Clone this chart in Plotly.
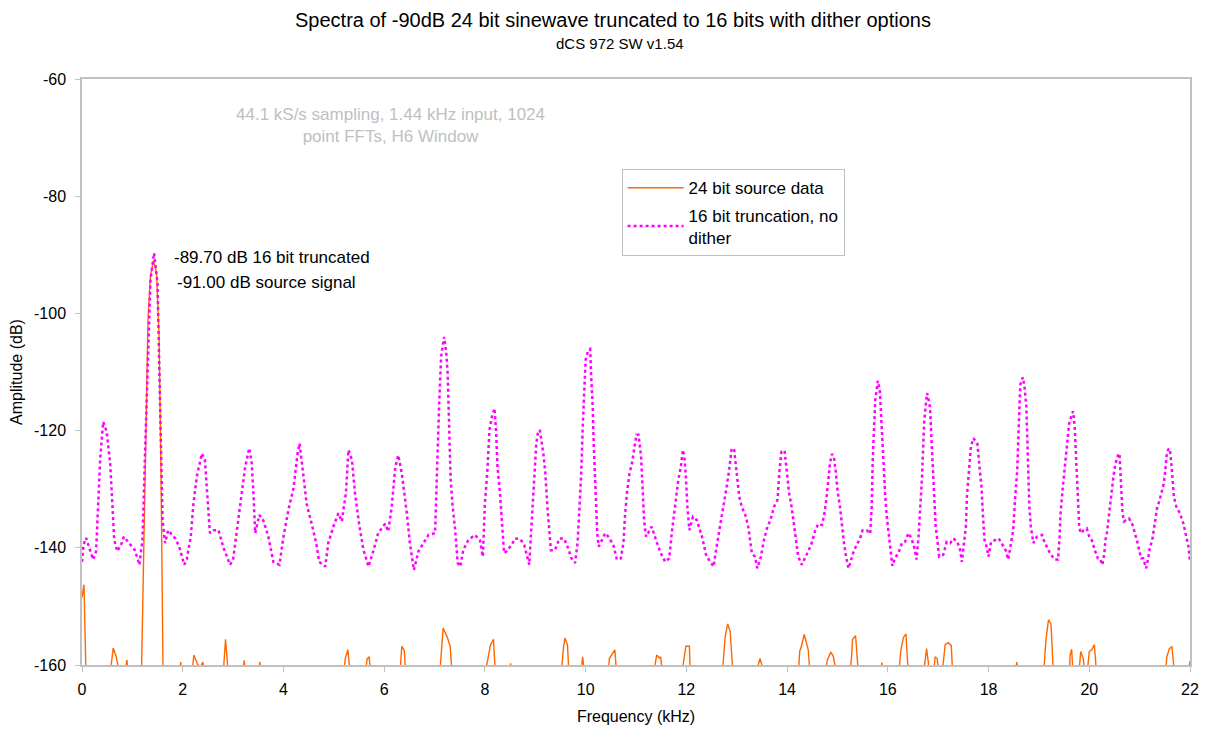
import plotly.graph_objects as go

# ---- 24 bit source data (orange); values below -160 dB are clipped by the axis ----
src_khz = [0.00, 0.04, 0.08,
           0.55, 0.62, 0.68, 0.76,
           0.85, 0.89, 0.93,
           1.18, 1.23, 1.27, 1.31, 1.36, 1.42, 1.48, 1.53, 1.57, 1.61,
           1.93, 1.96, 1.99,
           2.18, 2.22, 2.30, 2.36, 2.40, 2.44,
           2.80, 2.85, 2.91,
           3.19, 3.22, 3.25,
           3.50, 3.53, 3.56,
           5.18, 5.23, 5.28, 5.33,
           5.62, 5.66, 5.70, 5.74,
           6.31, 6.35, 6.40, 6.43,
           7.10, 7.17, 7.25, 7.31, 7.35,
           7.98, 8.05, 8.11, 8.17, 8.21,
           8.49, 8.51, 8.53,
           9.51, 9.56, 9.59, 9.64, 9.67,
           9.90, 9.94, 9.99,
           10.45, 10.47, 10.52, 10.58, 10.62,
           11.34, 11.41, 11.46, 11.49, 11.53,
           11.90, 11.99, 12.06, 12.08,
           12.71, 12.77, 12.82, 12.87, 12.93,
           13.37, 13.46, 13.57,
           14.22, 14.25, 14.29, 14.34, 14.42, 14.46,
           14.75, 14.80, 14.87, 14.92, 14.99,
           15.24, 15.28, 15.30, 15.36, 15.42,
           15.86, 15.88, 15.91,
           16.21, 16.26, 16.31, 16.36, 16.41,
           16.70, 16.77, 16.84,
           16.90, 16.94, 16.98, 17.02,
           17.07, 17.14, 17.20, 17.26, 17.29,
           18.52, 18.56, 18.61,
           19.09, 19.14, 19.19, 19.24, 19.29,
           19.60, 19.62, 19.65, 19.68,
           19.79, 19.83, 19.88, 19.92,
           19.95, 20.00, 20.05, 20.10, 20.15,
           21.51, 21.54, 21.59, 21.64, 21.70,
           21.96, 22.00]
src_db = [-148.5, -146.3, -162,
          -162, -157.1, -158.6, -162,
          -162, -159.1, -162,
          -162, -140, -118, -101, -93.5, -91.0, -93, -104, -128, -162,
          -162, -159.5, -162,
          -162, -158.3, -160, -160.2, -159.5, -162,
          -162, -155.6, -162,
          -162, -159.2, -162,
          -162, -159.5, -162,
          -162, -158.8, -157.4, -162,
          -162, -159.0, -158.6, -162,
          -162, -156.8, -157.5, -162,
          -162, -153.7, -155.2, -156.8, -162,
          -162, -159.4, -156.6, -155.6, -162,
          -162, -159.7, -162,
          -162, -157.0, -155.4, -156.6, -162,
          -162, -158.6, -162,
          -162, -158.9, -158.1, -157.4, -162,
          -162, -158.3, -158.8, -158.6, -162,
          -162, -156.8, -156.8, -162,
          -162, -155.2, -153.0, -154.3, -162,
          -162, -158.9, -162,
          -162, -157.7, -156.6, -154.8, -157.4, -162,
          -162, -159.1, -157.8, -158.6, -162,
          -162, -158.6, -155.6, -155.0, -162,
          -162, -159.6, -162,
          -162, -157.4, -155.3, -154.7, -162,
          -162, -157.2, -162,
          -162, -158.6, -158.9, -162,
          -162, -156.5, -156.2, -156.7, -162,
          -162, -159.5, -162,
          -162, -155.7, -152.3, -153.0, -162,
          -162, -158.3, -157.3, -162,
          -162, -157.7, -158.9, -162,
          -162, -157.7, -157.4, -156.5, -162,
          -162, -158.6, -157.2, -156.9, -162,
          -162, -159.3]

# ---- 16 bit truncation, no dither (magenta) ----
trunc_khz = [0.00, 0.03, 0.08, 0.14, 0.22, 0.28, 0.32, 0.36, 0.42, 0.49,
             0.56, 0.60, 0.64, 0.70, 0.79, 0.83, 0.92, 0.99, 1.05, 1.14,
             1.20, 1.26, 1.32, 1.36, 1.43, 1.50, 1.53, 1.56, 1.60, 1.65,
             1.71, 1.85, 1.93, 2.03, 2.08, 2.16, 2.21, 2.28, 2.38, 2.44,
             2.51, 2.54, 2.62, 2.71, 2.81, 2.94, 3.00, 3.07, 3.17, 3.24,
             3.32, 3.37, 3.40, 3.44, 3.52, 3.60, 3.70, 3.80, 3.92, 4.00,
             4.10, 4.20, 4.28, 4.32, 4.38, 4.46, 4.56, 4.65, 4.71, 4.83,
             4.89, 4.99, 5.09, 5.16, 5.19, 5.24, 5.29, 5.36, 5.42, 5.51,
             5.59, 5.69, 5.79, 5.88, 6.02, 6.08, 6.15, 6.22, 6.28, 6.35,
             6.45, 6.51, 6.59, 6.68, 6.78, 6.88, 7.01, 7.03, 7.06, 7.09,
             7.11, 7.13, 7.19, 7.23, 7.26, 7.28, 7.29, 7.32, 7.36, 7.41,
             7.46, 7.51, 7.57, 7.67, 7.80, 7.90, 7.96, 8.00, 8.05, 8.09,
             8.14, 8.19, 8.22, 8.25, 8.30, 8.33, 8.38, 8.43, 8.53, 8.60,
             8.70, 8.78, 8.83, 8.88, 8.92, 8.95, 8.98, 9.02, 9.05, 9.09,
             9.16, 9.20, 9.24, 9.27, 9.31, 9.39, 9.48, 9.57, 9.64, 9.72,
             9.79, 9.84, 9.87, 9.91, 9.94, 9.97, 10.00, 10.05, 10.09, 10.11,
             10.14, 10.16, 10.18, 10.21, 10.23, 10.26, 10.39, 10.45, 10.55, 10.62,
             10.70, 10.75, 10.78, 10.82, 10.87, 10.92, 10.96, 11.01, 11.05, 11.10,
             11.13, 11.16, 11.20, 11.31, 11.41, 11.49, 11.58, 11.66, 11.71, 11.76,
             11.81, 11.84, 11.89, 11.93, 11.96, 11.99, 12.02, 12.06, 12.13, 12.21,
             12.31, 12.40, 12.48, 12.54, 12.60, 12.67, 12.73, 12.80, 12.85, 12.90,
             12.95, 12.99, 13.02, 13.05, 13.10, 13.17, 13.23, 13.30, 13.36, 13.41,
             13.48, 13.54, 13.61, 13.67, 13.74, 13.81, 13.85, 13.89, 13.95, 13.99,
             14.04, 14.09, 14.14, 14.18, 14.22, 14.29, 14.36, 14.42, 14.49, 14.56,
             14.62, 14.69, 14.73, 14.77, 14.82, 14.85, 14.89, 14.93, 14.97, 15.00,
             15.05, 15.09, 15.13, 15.17, 15.22, 15.26, 15.31, 15.38, 15.45, 15.50,
             15.58, 15.65, 15.68, 15.70, 15.73, 15.75, 15.78, 15.80, 15.84, 15.86,
             15.89, 15.92, 15.95, 15.98, 16.02, 16.05, 16.09, 16.14, 16.21, 16.28,
             16.34, 16.41, 16.47, 16.54, 16.57, 16.61, 16.64, 16.68, 16.70, 16.72,
             16.76, 16.78, 16.82, 16.84, 16.86, 16.88, 16.90, 16.92, 16.95, 16.99,
             17.02, 17.10, 17.17, 17.24, 17.30, 17.38, 17.43, 17.47, 17.51, 17.55,
             17.57, 17.61, 17.65, 17.70, 17.78, 17.82, 17.86, 17.89, 17.92, 17.96,
             18.00, 18.05, 18.13, 18.20, 18.26, 18.35, 18.39, 18.44, 18.49, 18.53,
             18.57, 18.59, 18.61, 18.63, 18.68, 18.71, 18.75, 18.77, 18.79, 18.81,
             18.84, 18.89, 18.96, 19.06, 19.12, 19.22, 19.31, 19.38, 19.41, 19.43,
             19.47, 19.50, 19.54, 19.57, 19.60, 19.64, 19.68, 19.71, 19.73, 19.75,
             19.78, 19.80, 19.83, 19.89, 19.95, 20.00, 20.05, 20.11, 20.17, 20.21,
             20.26, 20.30, 20.32, 20.35, 20.38, 20.41, 20.45, 20.48, 20.52, 20.57,
             20.60, 20.62, 20.63, 20.66, 20.69, 20.74, 20.79, 20.86, 20.91, 20.96,
             20.99, 21.03, 21.07, 21.13, 21.17, 21.20, 21.25, 21.28, 21.32, 21.35,
             21.39, 21.43, 21.48, 21.51, 21.54, 21.57, 21.60, 21.63, 21.65, 21.68,
             21.73, 21.80, 21.87, 21.90, 21.94, 21.97, 22.00]
trunc_db = [-142.4, -139.5, -138.3, -140.0, -142.0, -140.6, -133.0, -125.0, -118.5, -120.2,
            -125.6, -131.3, -138.7, -140.6, -139.2, -138.1, -139.0, -139.8, -140.4, -142.9,
            -138.7, -121.6, -104.5, -94.3, -89.7, -94.9, -107.4, -121.6, -135.3, -139.2,
            -137.0, -138.4, -139.8, -142.9, -142.0, -138.1, -132.7, -127.8, -123.9, -125.0,
            -133.0, -137.5, -137.0, -137.0, -140.0, -142.9, -142.0, -137.5, -131.6, -126.2,
            -123.0, -125.6, -130.1, -137.5, -134.4, -135.3, -138.1, -142.4, -142.9, -138.1,
            -133.5, -129.8, -123.9, -122.2, -126.5, -132.5, -135.9, -139.2, -142.4, -143.2,
            -139.2, -136.4, -134.1, -135.5, -133.5, -130.7, -123.3, -125.0, -130.7, -136.4,
            -140.4, -143.2, -140.4, -137.5, -135.9, -137.2, -133.0, -126.2, -124.2, -127.3,
            -134.1, -139.2, -143.8, -140.6, -139.2, -137.8, -137.5, -130.7, -123.9, -115.9,
            -111.4, -107.4, -104.0, -106.5, -110.2, -115.9, -122.7, -128.4, -133.0, -137.0,
            -142.6, -143.2, -140.4, -138.7, -137.8, -138.7, -141.5, -132.4, -126.7, -119.9,
            -117.6, -116.2, -119.9, -126.2, -130.7, -135.3, -140.9, -140.6, -139.5, -138.4,
            -138.5, -139.5, -141.2, -142.9, -137.0, -131.8, -126.7, -122.2, -120.5, -119.9,
            -123.9, -127.3, -133.0, -137.0, -140.4, -140.4, -138.4, -138.4, -139.8, -141.8,
            -142.6, -139.2, -134.1, -127.8, -119.9, -112.5, -107.9, -106.3, -106.1, -110.8,
            -115.9, -122.2, -127.8, -133.0, -137.5, -139.8, -137.5, -138.1, -139.5, -142.0,
            -141.8, -139.2, -134.7, -130.7, -127.3, -125.6, -123.3, -120.7, -120.7, -124.4,
            -129.6, -135.3, -138.1, -136.4, -139.0, -140.9, -142.4, -141.8, -137.5, -134.1,
            -130.7, -128.4, -126.2, -123.3, -124.4, -127.8, -133.0, -137.0, -134.7, -135.3,
            -138.1, -141.5, -142.4, -143.2, -139.8, -136.4, -133.0, -129.6, -126.7, -123.0,
            -123.3, -126.2, -129.0, -131.3, -133.0, -134.4, -136.4, -140.9, -141.5, -143.5,
            -141.5, -138.7, -136.4, -135.3, -133.0, -131.8, -126.7, -123.6, -123.4, -126.7,
            -130.7, -133.0, -136.4, -139.8, -141.5, -142.9, -141.8, -140.6, -139.2, -137.0,
            -135.9, -136.1, -134.7, -132.4, -128.4, -125.6, -124.0, -124.4, -127.3, -130.1,
            -133.0, -136.4, -139.2, -141.5, -143.5, -142.4, -140.9, -139.5, -138.4, -137.0,
            -137.0, -137.6, -133.0, -125.0, -119.3, -114.8, -113.0, -111.5, -113.0, -116.5,
            -122.7, -127.3, -131.3, -134.7, -138.1, -140.9, -143.1, -141.8, -140.9, -139.2,
            -139.0, -137.5, -138.4, -140.4, -142.0, -138.1, -134.1, -127.8, -123.3, -118.7,
            -115.1, -113.6, -115.2, -116.2, -120.3, -124.4, -128.4, -132.4, -136.4, -139.2,
            -141.5, -141.2, -139.0, -139.2, -138.4, -139.0, -140.1, -142.4, -139.8, -136.4,
            -131.3, -127.3, -122.7, -121.3, -122.3, -126.2, -129.6, -134.7, -138.7, -139.8,
            -141.5, -139.0, -138.7, -138.4, -139.2, -140.6, -142.0, -139.8, -137.0, -131.3,
            -126.7, -121.6, -115.9, -112.2, -110.9, -112.2, -115.9, -121.6, -127.3, -133.0,
            -136.4, -139.2, -138.1, -137.8, -139.2, -140.9, -142.0, -142.0, -138.1, -134.1,
            -130.1, -127.3, -123.3, -120.5, -118.8, -117.6, -116.7, -119.3, -123.9, -128.4,
            -132.4, -136.4, -137.5, -137.0, -136.7, -138.1, -138.7, -140.4, -141.8, -141.8,
            -142.9, -140.9, -138.7, -137.5, -135.3, -132.4, -130.4, -127.8, -125.6, -124.2,
            -123.9, -126.7, -130.1, -134.1, -135.5, -135.3, -135.0, -136.1, -137.5, -139.2,
            -140.4, -141.8, -141.8, -143.5, -141.8, -140.1, -138.7, -137.2, -134.7, -133.0,
            -132.1, -130.7, -129.0, -126.7, -123.9, -123.2, -123.1, -125.6, -128.4, -131.3,
            -133.0, -134.1, -135.9, -137.2, -138.4, -139.8, -142.4]

x_ticks = [0, 2, 4, 6, 8, 10, 12, 14, 16, 18, 20, 22]
y_ticks = [-60, -80, -100, -120, -140, -160]

FONT = "Liberation Sans, Arial, sans-serif"
AXIS_GREY = "#c0c0c0"

fig = go.Figure()
fig.add_trace(go.Scatter(
    x=src_khz, y=src_db, mode="lines", name="24 bit source data",
    line=dict(color="#ff6600", width=1.4), legendgroup="a",
))
fig.add_trace(go.Scatter(
    x=trunc_khz, y=trunc_db, mode="lines", name="16 bit truncation, no<br>dither",
    line=dict(color="#ff00ff", width=2.5, dash="3px,3px"), legendgroup="b",
))

fig.add_annotation(x=1.79, y=-90.4, xref="x", yref="y", text="-89.70 dB 16 bit truncated",
                   showarrow=False, xanchor="left", yanchor="middle",
                   font=dict(size=17, color="black", family=FONT))
fig.add_annotation(x=1.85, y=-94.8, xref="x", yref="y", text="-91.00 dB source signal",
                   showarrow=False, xanchor="left", yanchor="middle",
                   font=dict(size=17, color="black", family=FONT))
fig.add_annotation(x=6.12, y=-68.0, xref="x", yref="y",
                   text="44.1 kS/s sampling, 1.44 kHz input, 1024<br>point FFTs, H6 Window",
                   showarrow=False, xanchor="center", yanchor="middle", align="center",
                   font=dict(size=17, color="#c0c0c0", family=FONT))
fig.add_annotation(x=0.479, y=1.1007, xref="paper", yref="paper",
                   text="Spectra of -90dB 24 bit sinewave truncated to 16 bits with dither options",
                   showarrow=False, xanchor="center", yanchor="middle",
                   font=dict(size=20, color="black", family=FONT))
fig.add_annotation(x=0.486, y=1.0614, xref="paper", yref="paper", text="dCS 972 SW v1.54",
                   showarrow=False, xanchor="center", yanchor="middle",
                   font=dict(size=15, color="black", family=FONT))

fig.update_layout(
    width=1199, height=723,
    margin=dict(l=74, r=17, t=71, b=66, autoexpand=False),
    paper_bgcolor="white", plot_bgcolor="white",
    font=dict(family=FONT, size=16, color="black"),
    showlegend=True,
    legend=dict(x=0.487, y=0.846, xanchor="left", yanchor="top",
                bgcolor="white", bordercolor=AXIS_GREY, borderwidth=1,
                font=dict(size=17, family=FONT, color="black"),
                tracegroupgap=2, traceorder="grouped", itemwidth=56),
    xaxis=dict(range=[0, 22], tickvals=x_ticks, ticktext=[str(v) for v in x_ticks],
               automargin=False,
               showgrid=False, zeroline=False, showline=True, linecolor=AXIS_GREY,
               linewidth=2, mirror=True, ticks="outside", ticklen=5, tickcolor=AXIS_GREY,
               ticklabelstandoff=4, tickfont=dict(size=16, family=FONT),
               title=dict(text="Frequency (kHz)", standoff=14, font=dict(size=16, family=FONT))),
    yaxis=dict(range=[-160, -60], tickvals=y_ticks, ticktext=[str(v) for v in y_ticks],
               automargin=False,
               showgrid=False, zeroline=False, showline=True, linecolor=AXIS_GREY,
               linewidth=1.5, mirror=True, ticks="outside", ticklen=5, tickcolor=AXIS_GREY,
               ticklabelstandoff=6, tickfont=dict(size=16, family=FONT),
               title=dict(text="Amplitude (dB)", standoff=10, font=dict(size=16, family=FONT))),
)

fig.write_html("out.html")
